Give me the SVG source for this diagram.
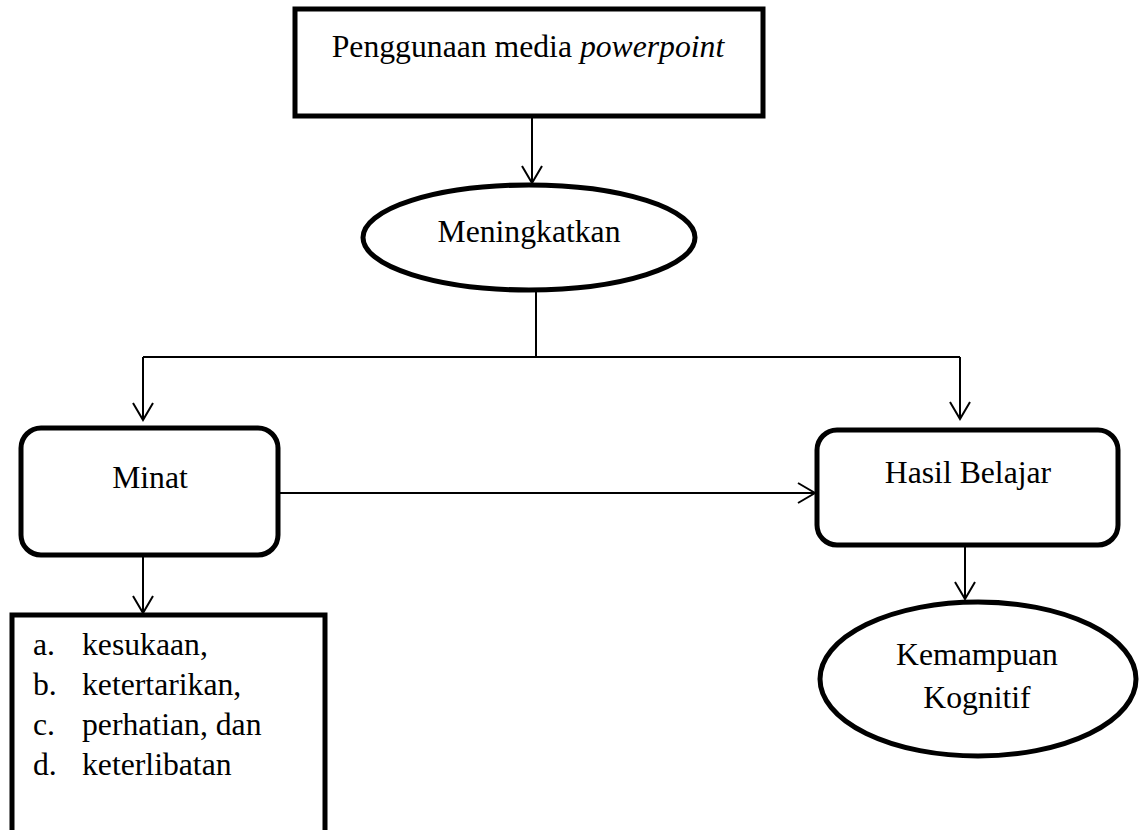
<svg xmlns="http://www.w3.org/2000/svg" width="1140" height="830" viewBox="0 0 1140 830">
  <defs>
    <marker id="arrow" markerUnits="userSpaceOnUse" viewBox="-20 -12 22 24" markerWidth="22" markerHeight="24" refX="0" refY="0" orient="auto" overflow="visible">
      <path d="M -17 -10 L 0 0 L -17 10" fill="none" stroke="#000" stroke-width="2"/>
    </marker>
  </defs>
  <style>
    .box { fill: #fff; stroke: #000; stroke-width: 5; }
    .conn { fill: none; stroke: #000; stroke-width: 2; }
    .lbl { font-family: "Liberation Serif", "Times New Roman", serif; font-size: 31.7px; fill: #000; }
    .mid { text-anchor: middle; }
  </style>
  <rect x="0" y="0" width="1140" height="830" fill="#fff"/>

  <g id="connectors">
    <path class="conn" d="M 532 116 L 532 183" marker-end="url(#arrow)"/>
    <path class="conn" d="M 536 290 L 536 357"/>
    <path class="conn" d="M 143 357 L 960 357"/>
    <path class="conn" d="M 143 357 L 143 420" marker-end="url(#arrow)"/>
    <path class="conn" d="M 960 357 L 960 419" marker-end="url(#arrow)"/>
    <path class="conn" d="M 278 493 L 815 493" marker-end="url(#arrow)"/>
    <path class="conn" d="M 965 545 L 965 599" marker-end="url(#arrow)"/>
    <path class="conn" d="M 143 555 L 143 613" marker-end="url(#arrow)"/>
  </g>

  <g id="node-penggunaan">
    <rect class="box" x="295" y="9" width="468" height="107"/>
    <text class="lbl mid" x="528" y="57">Penggunaan media <tspan font-style="italic">powerpoint</tspan></text>
  </g>

  <g id="node-meningkatkan">
    <ellipse class="box" cx="529" cy="237.5" rx="166" ry="52.5"/>
    <text class="lbl mid" x="529" y="242">Meningkatkan</text>
  </g>

  <g id="node-minat">
    <rect class="box" x="21" y="428" width="257" height="127" rx="20" ry="20"/>
    <text class="lbl mid" x="150" y="488">Minat</text>
  </g>

  <g id="node-hasil">
    <rect class="box" x="817" y="430" width="301" height="115" rx="20" ry="20"/>
    <text class="lbl mid" x="968" y="483">Hasil Belajar</text>
  </g>

  <g id="node-kemampuan">
    <ellipse class="box" cx="978" cy="679" rx="158" ry="77"/>
    <text class="lbl mid" x="977" y="665">Kemampuan</text>
    <text class="lbl mid" x="977" y="708">Kognitif</text>
  </g>

  <g id="node-list">
    <rect class="box" x="12" y="615" width="313" height="240"/>
    <text class="lbl" x="33" y="655">a.</text>
    <text class="lbl" x="82" y="655">kesukaan,</text>
    <text class="lbl" x="33" y="695">b.</text>
    <text class="lbl" x="82" y="695">ketertarikan,</text>
    <text class="lbl" x="33" y="735">c.</text>
    <text class="lbl" x="82" y="735">perhatian, dan</text>
    <text class="lbl" x="33" y="775">d.</text>
    <text class="lbl" x="82" y="775">keterlibatan</text>
  </g>
</svg>
